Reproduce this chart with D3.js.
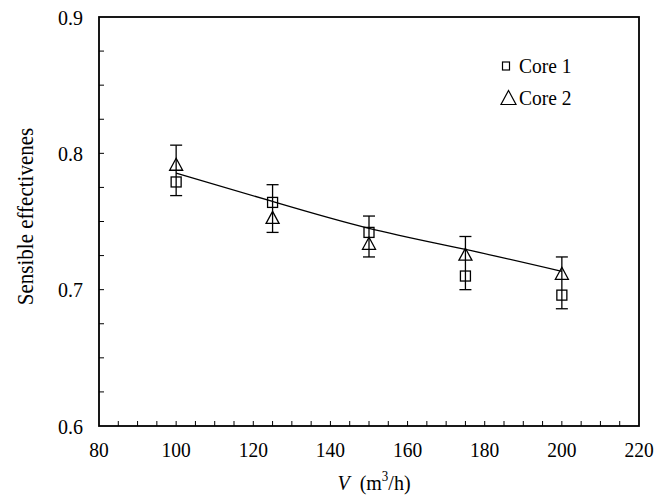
<!DOCTYPE html>
<html>
<head>
<meta charset="utf-8">
<script src="https://cdn.jsdelivr.net/npm/d3@7/dist/d3.min.js"></script>
<style>
  html, body { margin: 0; padding: 0; background: #fff; }
  svg { display: block; }
  text { font-family: "Liberation Serif", "Times New Roman", serif; fill: #000; }
</style>
</head>
<body>
<svg id="chart" width="672" height="495"></svg>
<script>
// Air flow rates (m3/h)
const flowRates = [100, 125, 150, 175, 200];
// Measured sensible effectiveness
const core1 = [0.779, 0.764, 0.742, 0.710, 0.696];
const core2 = [0.792, 0.753, 0.734, 0.726, 0.712];
// Error bar limits
const errLow  = [0.769, 0.742, 0.724, 0.700, 0.686];
const errHigh = [0.806, 0.777, 0.754, 0.739, 0.724];
// Fitted curve
const fitValues = [0.7855, 0.7647, 0.7450, 0.7295, 0.7134];
// Axis ticks
const xTicks = [80, 100, 120, 140, 160, 180, 200, 220];
const yTicks = [0.6, 0.7, 0.8, 0.9];

const svg = d3.select("#chart");
const m = { left: 99, right: 639, top: 17, bottom: 426 };
const TALL = 1.1; // glyphs are drawn slightly taller than wide

const x = d3.scaleLinear().domain([80, 220]).range([m.left, m.right]);
const y = d3.scaleLinear().domain([0.6, 0.9]).range([m.bottom, m.top]);

// Places a text anchored at (px, py) with the vertical stretch applied
function label(parent, px, py, size, anchor, rot) {
  const g = parent.append("g")
    .attr("transform", `translate(${px},${py})${rot ? ` rotate(${rot})` : ""} scale(1,${TALL})`);
  return g.append("text").attr("text-anchor", anchor).attr("font-size", size);
}

// Minor ticks, pointing inward
const xMinor = d3.range(85, 220, 5);
const yMinor = d3.range(0, 13).map(i => 0.6 + i * 0.025).filter(v => v > 0.6 + 1e-9 && v < 0.9 - 1e-9);

svg.append("g")
  .selectAll("line").data(xMinor).join("line")
  .attr("x1", d => x(d)).attr("x2", d => x(d))
  .attr("y1", m.bottom).attr("y2", m.bottom - 5)
  .attr("stroke", "#000").attr("stroke-width", 1);

svg.append("g")
  .selectAll("line").data(yMinor).join("line")
  .attr("x1", m.left).attr("x2", m.left + 5)
  .attr("y1", d => y(d)).attr("y2", d => y(d))
  .attr("stroke", "#000").attr("stroke-width", 1);

// Frame
svg.append("rect")
  .attr("x", m.left).attr("y", m.top)
  .attr("width", m.right - m.left).attr("height", m.bottom - m.top)
  .attr("fill", "none").attr("stroke", "#000").attr("stroke-width", 1.8);

// Tick labels
const xl = svg.append("g");
xTicks.forEach(d => label(xl, x(d), m.bottom + 31, 19.5, "middle").text(d));
const yl = svg.append("g");
yTicks.forEach(d => label(yl, m.left - 16, y(d) + 7.5, 20, "end").text(d.toFixed(1)));

// Axis titles
const xt = label(svg, 374, 490, 20, "middle");
xt.append("tspan").attr("font-style", "italic").text("V");
xt.append("tspan").text("\u2002(m");
xt.append("tspan").attr("dy", -8).attr("font-size", 13).text("3");
xt.append("tspan").attr("dy", 8).text("/h)");

label(svg, 33, 216.5, 21, "middle", -90).text("Sensible effectivenes");

// Fitted curve
const line = d3.line()
  .x((d, i) => x(flowRates[i]))
  .y(d => y(d))
  .curve(d3.curveNatural);
svg.append("path")
  .datum(fitValues)
  .attr("d", line)
  .attr("fill", "none").attr("stroke", "#000").attr("stroke-width", 1.3);

// Error bars
const eb = svg.append("g").attr("stroke", "#000").attr("stroke-width", 1.3);
flowRates.forEach((v, i) => {
  const cx = x(v);
  eb.append("line").attr("x1", cx).attr("x2", cx)
    .attr("y1", y(errLow[i])).attr("y2", y(errHigh[i]));
  [errLow[i], errHigh[i]].forEach(e => {
    eb.append("line").attr("x1", cx - 6).attr("x2", cx + 6)
      .attr("y1", y(e)).attr("y2", y(e));
  });
});

// Markers
const tri = (cx, cy, w, h) =>
  `M${cx},${cy - h / 2}L${cx + w / 2},${cy + h / 2}L${cx - w / 2},${cy + h / 2}Z`;

svg.append("g").selectAll("rect").data(core1).join("rect")
  .attr("x", (d, i) => x(flowRates[i]) - 5)
  .attr("y", d => y(d) - 5)
  .attr("width", 10).attr("height", 10)
  .attr("fill", "none").attr("stroke", "#000").attr("stroke-width", 1.3);

svg.append("g").selectAll("path").data(core2).join("path")
  .attr("d", (d, i) => tri(x(flowRates[i]), y(d), 13, 12))
  .attr("fill", "none").attr("stroke", "#000").attr("stroke-width", 1.3);

// Legend
const lg = svg.append("g");
lg.append("rect").attr("x", 502.5).attr("y", 62).attr("width", 7).attr("height", 8)
  .attr("fill", "none").attr("stroke", "#000").attr("stroke-width", 1.2);
label(lg, 519, 72.5, 19.5, "start").text("Core 1");
lg.append("path").attr("d", tri(508.5, 97.5, 15, 14))
  .attr("fill", "none").attr("stroke", "#000").attr("stroke-width", 1.2);
label(lg, 519, 104.5, 19.5, "start").text("Core 2");
</script>
</body>
</html>
